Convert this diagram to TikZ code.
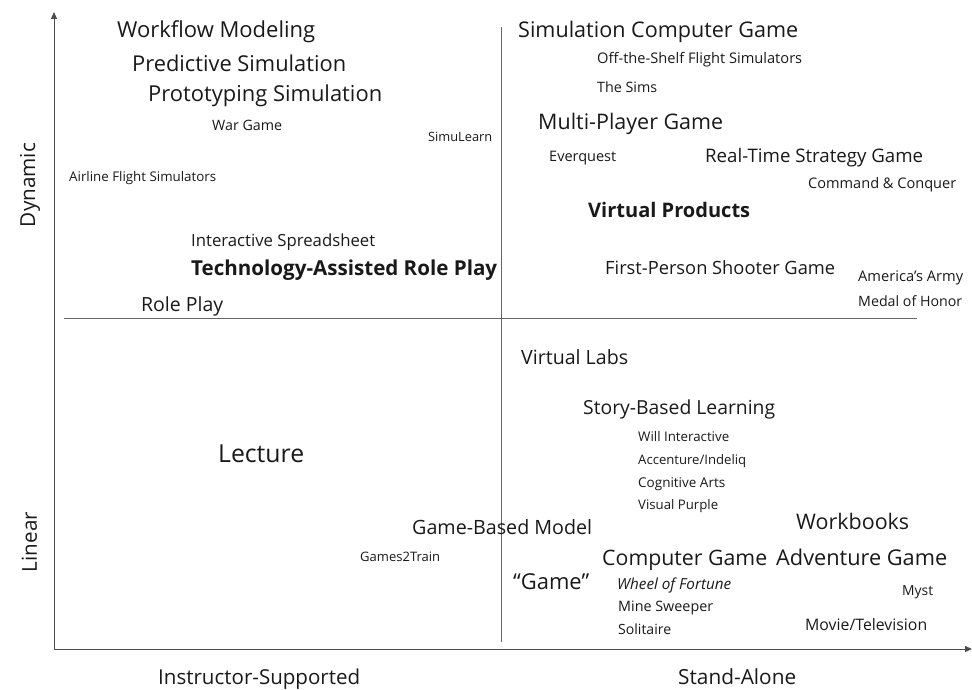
\documentclass[tikz,border=0pt]{standalone}
\usepackage{fontspec}
\setmainfont{Open Sans}
\usepackage{graphicx}
\usetikzlibrary{arrows.meta}
\newcommand{\fw}[2]{\resizebox{#1pt}{!}{#2}}
\tikzset{
  lbl/.style={anchor=base west, inner sep=0pt, text=black!90, font=\fontsize{20}{24}\selectfont},
  axis/.style={line width=1pt, draw=black!70},
  axisarrow/.style={axis, -{Triangle[length=7pt,width=6pt]}},
  divider/.style={line width=1pt, draw=black!60},
}
\begin{document}
\begin{tikzpicture}[x=1pt,y=-1pt]
\useasboundingbox (0,0) rectangle (972,690);
% axes and dividers
\coordinate (O) at (54,649);
\coordinate (ytop) at (54,12);
\coordinate (xend) at (972,649);
\coordinate (hl) at (64,318);
\coordinate (hr) at (917,318);
\coordinate (vt) at (501,27);
\coordinate (vb) at (501,642);
\draw[axisarrow] (O) -- (ytop);
\draw[axisarrow] (O) -- (xend);
\draw[divider] (hl) -- (hr);
\draw[divider] (vt) -- (vb);
% axis labels
\node[lbl, rotate=90, anchor=base] (dyn) at (35,185) {\fw{84}{Dynamic}};
\node[lbl, rotate=90, anchor=base] (lin) at (37,542) {\fw{60}{Linear}};
\node[lbl] (instr) at (158,684) {\fw{202}{Instructor-Supported}};
\node[lbl] (stand) at (678,684) {\fw{118}{Stand-Alone}};
% top-left quadrant
\node[lbl] (wm) at (117,38) {\fw{198}{Workflow Modeling}};
\node[lbl] (ps) at (132,72) {\fw{214}{Predictive Simulation}};
\node[lbl] (pts) at (148,102) {\fw{234}{Prototyping Simulation}};
\node[lbl] (wg) at (212,131) {\fw{70}{War Game}};
\node[lbl] (sl) at (428,142) {\fw{64}{SimuLearn}};
\node[lbl] (afs) at (69,182) {\fw{147}{Airline Flight Simulators}};
\node[lbl] (is) at (191,246) {\fw{184}{Interactive Spreadsheet}};
\node[lbl] (tarp) at (191,275) {\fw{306}{\bfseries Technology-Assisted Role Play}};
\node[lbl] (rp) at (141,311) {\fw{82}{Role Play}};
% top-right quadrant
\node[lbl] (scg) at (518,38) {\fw{280}{Simulation Computer Game}};
\node[lbl] (ofs) at (597,64) {\fw{205}{Off-the-Shelf Flight Simulators}};
\node[lbl] (sims) at (597,93) {\fw{60}{The Sims}};
\node[lbl] (mpg) at (538,130) {\fw{185}{Multi-Player Game}};
\node[lbl] (eq) at (549,161) {\fw{67}{Everquest}};
\node[lbl] (rts) at (705,163) {\fw{218}{Real-Time Strategy Game}};
\node[lbl] (cc) at (808,188) {\fw{148}{Command \& Conquer}};
\node[lbl] (vp) at (588,217) {\fw{162}{\bfseries Virtual Products}};
\node[lbl] (fps) at (605,274) {\fw{230}{First-Person Shooter Game}};
\node[lbl] (aa) at (858,281) {\fw{105}{America’s Army}};
\node[lbl] (moh) at (858,306) {\fw{104}{Medal of Honor}};
% bottom-left quadrant
\node[lbl] (lec) at (218,462) {\fw{86}{Lecture}};
\node[lbl] (gbm) at (412,534) {\fw{180}{Game-Based Model}};
\node[lbl] (g2t) at (360,561) {\fw{80}{Games2Train}};
% bottom-right quadrant
\node[lbl] (vl) at (521,364) {\fw{107}{Virtual Labs}};
\node[lbl] (sbl) at (583,414) {\fw{192}{Story-Based Learning}};
\node[lbl] (wi) at (638,441) {\fw{91}{Will Interactive}};
\node[lbl] (ai) at (638,464) {\fw{108}{Accenture/Indeliq}};
\node[lbl] (ca) at (638,487) {\fw{87}{Cognitive Arts}};
\node[lbl] (vpu) at (638,509) {\fw{80}{Visual Purple}};
\node[lbl] (wb) at (796,529) {\fw{113}{Workbooks}};
\node[lbl] (cg) at (602,565) {\fw{165}{Computer Game}};
\node[lbl] (ag) at (776,565) {\fw{171}{Adventure Game}};
\node[lbl] (gq) at (513,589) {\fw{76}{“Game”}};
\node[lbl] (wof) at (617,589) {\fw{114}{\itshape Wheel of Fortune}};
\node[lbl] (ms) at (618,611) {\fw{95}{Mine Sweeper}};
\node[lbl] (sol) at (618,634) {\fw{53}{Solitaire}};
\node[lbl] (myst) at (902,595) {\fw{31}{Myst}};
\node[lbl] (mtv) at (805,630) {\fw{122}{Movie/Television}};
\end{tikzpicture}
\end{document}
